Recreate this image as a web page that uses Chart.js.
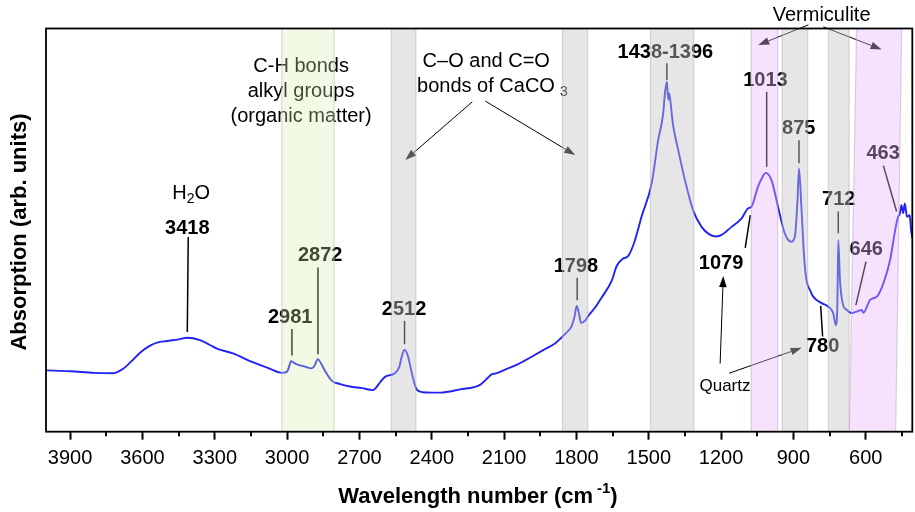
<!DOCTYPE html>
<html><head><meta charset="utf-8">
<script src="https://cdn.jsdelivr.net/npm/chart.js@4.4.1/dist/chart.umd.min.js"></script>
<style>html,body{margin:0;padding:0;background:#fff}canvas{display:block}</style>
</head><body>
<canvas id="c" width="915" height="512"></canvas>
<script>
// ---- spectrum (wavenumber cm-1, absorption arb. units) ----
const wavenumbers = [4000,3900,3800,3722,3680,3645,3610,3570,3539,3498,3450,3415,3361,3320,3291,3224,3154,3083,3021,3000,2990,2984,2970,2959,2930,2897,2885,2873,2858,2843,2814,2780,2739,2690,2644,2630,2615,2594,2553,2535,2525,2514,2500,2483,2463,2437,2400,2365,2283,2200,2167,2150,2138,2100,2040,1986,1930,1889,1848,1820,1808,1799,1790,1781,1765,1751,1720,1696,1654,1633,1610,1585,1560,1530,1488,1461,1440,1433,1425,1419,1415,1409,1405,1398,1378,1350,1316,1281,1250,1219,1198,1157,1115,1088,1074,1047,1030,1015,991,964,936,908,894,883,877,867,856,846,831,818,783,755,735,724,718,714,707,696,679,658,638,617,610,582,554,527,499,478,466,459,452,445,438,429,418,412,407];
const absorption  = [15.2,15.0,14.6,14.5,15.6,17.5,19.6,21.3,22.1,22.5,22.9,23.3,22.7,21.5,20.6,19.4,17.5,15.9,14.6,14.9,16.5,17.5,17.0,16.7,16.2,15.7,16.5,18.0,16.8,15.1,12.6,11.8,11.2,10.8,10.3,11.0,12.2,13.6,14.5,16.0,18.5,20.3,19.0,14.6,10.5,9.8,9.7,9.7,10.5,11.6,13.4,14.3,14.4,15.3,16.8,18.6,20.5,21.9,24.2,26.2,28.5,31.2,29.5,27.0,27.5,28.7,31.0,33.2,37.4,41.1,42.8,43.6,47.0,53.3,61.6,72.3,79.0,83.9,86.8,82.3,83.9,81.4,79.0,75.6,69.9,62.4,54.9,50.8,49.0,48.4,48.8,50.8,52.9,55.4,55.8,60.8,63.0,64.2,62.4,55.8,49.2,47.1,48.4,57.5,65.3,55.8,43.6,37.6,35.1,33.5,31.9,31.0,29.4,26.4,31.0,47.5,37.6,31.9,30.2,29.4,29.8,30.2,29.5,32.7,33.5,36.8,42.6,50.0,53.3,54.0,56.2,54.2,56.6,53.3,53.7,50.0,48.0];

// ---- axis ----
const tickValues = [3900,3600,3300,3000,2700,2400,2100,1800,1500,1200,900,600];
const minorTickValues = [3750,3450,3150,2850,2550,2250,1950,1650,1350,1050,750,450];
const xRange = [407, 4000];
const yRange = [0, 100];

// ---- shaded bands (wavenumber ranges) ----
const greenBands = [[3022,2805]];
const grayBands  = [[2568,2466],[1858,1753],[1493,1313],[947,841],[755,669]];
// [top-left, top-right, bottom-left, bottom-right]
const pinkBands  = [[1075,965,1075,965],[638,451,668,476]];

// ---- peak labels: text, label position (w,v), leader line (w1,v1,w2,v2) ----
const peakLabels = [
  ['3418', 3414, 50.5, [3410,48.3,3414,24.7]],
  ['2981', 2987, 28.3, [2980,25.5,2980,18.9]],
  ['2872', 2863, 43.6, [2872,40.7,2872,19.2]],
  ['2512', 2515, 30.2, [2513,27.5,2513,21.7]],
  ['1798', 1802, 41.1, [1797,38.2,1797,32.6]],
  ['1438-1396', 1431, 94.0, [1425,91.4,1425,87.2]],
  ['1013', 1016, 87.2, [1011,84.3,1011,65.7]],
  ['875', 878, 75.2, [877,72.3,877,66.6]],
  ['712', 712, 57.5, [714,54.6,714,49.2]],
  ['646', 598, 45.1, [599,42.2,641,31.4]],
  ['463', 528, 68.9, [527,66.0,472,54.6]],
  ['1079', 1200, 41.8, [1079,53.7,1100,45.6]],
  ['780', 779, 21.1, [787,31.2,779,23.6]]
];
// ---- plain text notes: text, w, v ----
const notes = [
  ['C-H bonds', 2942, 90.7],
  ['alkyl groups', 2942, 84.3],
  ['(organic matter)', 2942, 78.1],
  ['C\u2013O and C=O', 2174, 91.9],
  ['Vermiculite', 783, 103.3]
];
// ---- arrows: w1,v1 -> w2,v2 ----
const arrows = [
  [2232,81.8,2510,67.4],
  [2178,82.0,1805,68.6],
  [1204,16.9,1191,38.6],
  [1167,14.5,866,20.8],
  [838,100.9,1046,95.9],
  [776,100.4,534,94.8]
];

const FONT = '"Liberation Sans", Arial, Helvetica, sans-serif';

const overlay = {
  id: 'overlay',
  afterDatasetsDraw(chart) {
    const ctx = chart.ctx, xs = chart.scales.x, ys = chart.scales.y, a = chart.chartArea;
    const X = w => xs.getPixelForValue(w), Y = v => ys.getPixelForValue(v);
    ctx.save();
    ctx.fillStyle = '#000'; ctx.strokeStyle = '#000';
    ctx.textAlign = 'center'; ctx.textBaseline = 'middle';
    // peak labels
    ctx.font = 'bold 20px ' + FONT;
    peakLabels.forEach(([t, w, v, l]) => {
      ctx.fillText(t, X(w), Y(v));
      ctx.lineWidth = 1.5;
      ctx.beginPath(); ctx.moveTo(X(l[0]), Y(l[1])); ctx.lineTo(X(l[2]), Y(l[3])); ctx.stroke();
    });
    // notes
    ctx.font = '20px ' + FONT;
    notes.forEach(([t, w, v]) => ctx.fillText(t, X(w), Y(v)));
    // H2O
    {
      const cx = X(3398), cy = Y(59.2);
      ctx.font = '20px ' + FONT;
      const wH = ctx.measureText('H').width, wO = ctx.measureText('O').width;
      ctx.font = '14px ' + FONT;
      const w2 = ctx.measureText('2').width;
      let x0 = cx - (wH + w2 + wO) / 2;
      ctx.textAlign = 'left';
      ctx.font = '20px ' + FONT; ctx.fillText('H', x0, cy);
      ctx.font = '14px ' + FONT; ctx.fillText('2', x0 + wH, cy + 6);
      ctx.font = '20px ' + FONT; ctx.fillText('O', x0 + wH + w2, cy);
      // bonds of CaCO3
      const bx = X(2461), by = Y(85.7);
      ctx.fillText('bonds of CaCO', bx, by);
      const bw = ctx.measureText('bonds of CaCO').width;
      ctx.font = '14px ' + FONT; ctx.fillText('3', bx + bw + 5, by + 6);
      ctx.textAlign = 'center';
    }
    // Quartz
    ctx.font = '17px ' + FONT;
    ctx.fillText('Quartz', X(1184), Y(11.2));
    // arrows
    ctx.lineWidth = 1;
    arrows.forEach(([w1, v1, w2, v2]) => {
      const x1 = X(w1), y1 = Y(v1), x2 = X(w2), y2 = Y(v2);
      const ang = Math.atan2(y2 - y1, x2 - x1), L = 11, H = 3.8;
      const bxp = x2 - L * Math.cos(ang), byp = y2 - L * Math.sin(ang);
      ctx.beginPath(); ctx.moveTo(x1, y1); ctx.lineTo(bxp, byp); ctx.stroke();
      ctx.beginPath();
      ctx.moveTo(x2, y2);
      ctx.lineTo(bxp + H * Math.sin(ang), byp - H * Math.cos(ang));
      ctx.lineTo(bxp - H * Math.sin(ang), byp + H * Math.cos(ang));
      ctx.closePath(); ctx.fill();
    });
    // bands (drawn on top, translucent)
    ctx.beginPath(); ctx.rect(a.left, a.top, a.right - a.left, a.bottom - a.top); ctx.clip();
    const quad = (tl, tr, bl, br, fill, edge) => {
      ctx.beginPath();
      ctx.moveTo(X(tl), a.top); ctx.lineTo(X(tr), a.top);
      ctx.lineTo(X(br), a.bottom); ctx.lineTo(X(bl), a.bottom); ctx.closePath();
      ctx.fillStyle = fill; ctx.fill();
      ctx.strokeStyle = edge; ctx.lineWidth = 1.2;
      ctx.beginPath(); ctx.moveTo(X(tl), a.top); ctx.lineTo(X(bl), a.bottom); ctx.stroke();
      ctx.beginPath(); ctx.moveTo(X(tr), a.top); ctx.lineTo(X(br), a.bottom); ctx.stroke();
    };
    greenBands.forEach(([s, e]) => quad(s, e, s, e, 'rgba(212,238,172,0.30)', 'rgba(190,200,180,0.6)'));
    grayBands.forEach(([s, e]) => quad(s, e, s, e, 'rgba(197,197,197,0.43)', 'rgba(170,170,170,0.45)'));
    pinkBands.forEach(([tl, tr, bl, br]) => quad(tl, tr, bl, br, 'rgba(234,180,249,0.38)', 'rgba(190,160,200,0.5)'));
    ctx.restore();
  },
  afterDraw(chart) {
    const ctx = chart.ctx, xs = chart.scales.x, a = chart.chartArea;
    ctx.save();
    ctx.strokeStyle = '#000';
    // minor ticks
    ctx.lineWidth = 2;
    minorTickValues.forEach(w => {
      const x = Math.round(xs.getPixelForValue(w));
      ctx.beginPath(); ctx.moveTo(x, a.bottom); ctx.lineTo(x, a.bottom + 4.5); ctx.stroke();
    });
    // frame
    ctx.lineWidth = 1.8;
    ctx.strokeRect(a.left, a.top, a.right - a.left, a.bottom - a.top);
    // axis titles
    ctx.fillStyle = '#000';
    ctx.textBaseline = 'middle';
    ctx.font = 'bold 22px ' + FONT;
    const t1 = 'Wavelength number (cm', t2 = ')';
    const w1 = ctx.measureText(t1).width, w2 = ctx.measureText(t2).width;
    ctx.font = 'bold 15px ' + FONT;
    const ws = ctx.measureText('-1').width;
    const total = w1 + 4 + ws + w2;
    let x0 = 478 - total / 2; const ty = 497;
    ctx.textAlign = 'left';
    ctx.font = 'bold 22px ' + FONT; ctx.fillText(t1, x0, ty);
    ctx.font = 'bold 15px ' + FONT; ctx.fillText('-1', x0 + w1 + 4, ty - 8);
    ctx.font = 'bold 22px ' + FONT; ctx.fillText(t2, x0 + w1 + 4 + ws, ty);
    ctx.translate(20, 232); ctx.rotate(-Math.PI / 2);
    ctx.textAlign = 'center';
    ctx.fillText('Absorption (arb. units)', 0, 0);
    ctx.restore();
  }
};

new Chart(document.getElementById('c'), {
  type: 'line',
  data: {
    datasets: [{
      data: wavenumbers.map((w, i) => ({ x: w, y: absorption[i] })),
      borderColor: '#2222f2',
      borderWidth: 1.9,
      pointRadius: 0,
      cubicInterpolationMode: 'monotone',
      fill: false
    }]
  },
  options: {
    responsive: false,
    animation: false,
    devicePixelRatio: 1,
    layout: { padding: { left: 46, right: 2.7, top: 28.5, bottom: 0 } },
    plugins: { legend: { display: false }, tooltip: { enabled: false } },
    scales: {
      x: {
        type: 'linear', reverse: true, min: xRange[0], max: xRange[1],
        afterBuildTicks: s => { s.ticks = tickValues.map(v => ({ value: v })); },
        afterFit: s => { s.height = 80.3; },
        grid: { drawOnChartArea: false, drawTicks: true, tickLength: 8, tickWidth: 2, tickColor: '#000' },
        border: { display: false },
        ticks: { color: '#000', font: { family: FONT, size: 20 }, padding: 7, maxRotation: 0, autoSkip: false, callback: v => String(v) }
      },
      y: { display: false, min: yRange[0], max: yRange[1] }
    }
  },
  plugins: [overlay]
});
</script>
</body></html>
